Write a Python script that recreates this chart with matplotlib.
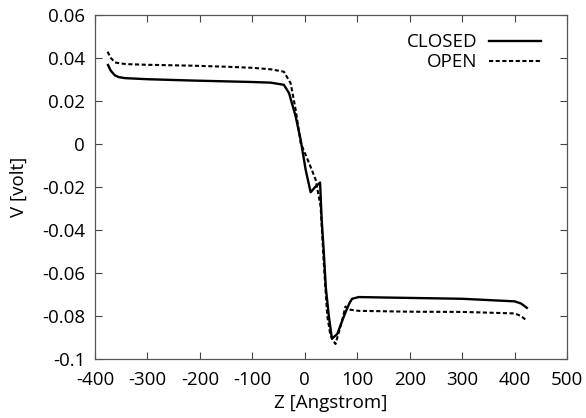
import matplotlib
matplotlib.use("Agg")
import matplotlib.pyplot as plt
from matplotlib.ticker import FixedLocator

plt.rcParams['font.family'] = ['Open Sans', 'DejaVu Sans']
plt.rcParams['axes.unicode_minus'] = False

# values
closed_z = [-375, -370, -362, -355, -343, -300, -217, -150, -100, -65, -40, -30,
            -17.5, -8, 1.5, 11, 20, 29, 32, 36, 40, 45.7, 51.5, 54, 61.7, 70,
            77.4, 85, 90, 102.7, 150, 200, 300, 400, 412, 423]
closed_v = [0.0366, 0.0340, 0.0318, 0.0310, 0.0305, 0.0300, 0.0294, 0.0290,
            0.0287, 0.0284, 0.0274, 0.0235, 0.0127, 0.0019, -0.0120, -0.0225,
            -0.0200, -0.0180, -0.0350, -0.0500, -0.0670, -0.0800, -0.0905,
            -0.0900, -0.0884, -0.0830, -0.0783, -0.0740, -0.0720, -0.0712,
            -0.0714, -0.0716, -0.0720, -0.0732, -0.0742, -0.0762]

open_z = [-376, -370, -362, -353, -340, -300, -217, -150, -100, -65, -40, -27,
          -17.5, -8, 7.8, 20.5, 30, 36, 42.7, 48, 52.2, 58.4, 64.7, 71, 77.4,
          82, 87, 102.7, 200, 300, 400, 412, 423]
open_v = [0.0428, 0.0400, 0.0378, 0.0374, 0.0370, 0.0367, 0.0363, 0.0358,
          0.0353, 0.0346, 0.0335, 0.0281, 0.0158, 0.0004, -0.0088, -0.0166,
          -0.0290, -0.0550, -0.0799, -0.0880, -0.0907, -0.0930, -0.0876,
          -0.0820, -0.0756, -0.0765, -0.0771, -0.0776, -0.0780, -0.0781,
          -0.0788, -0.0800, -0.0822]

x_ticks = [-400, -300, -200, -100, 0, 100, 200, 300, 400, 500]
y_ticks = [-0.1, -0.08, -0.06, -0.04, -0.02, 0, 0.02, 0.04, 0.06]
y_labels = ["-0.1", "-0.08", "-0.06", "-0.04", "-0.02", "0", "0.02", "0.04", "0.06"]

fig = plt.figure(figsize=(5.86, 4.18), dpi=100)
ax = fig.add_axes([0.162, 0.141, 0.806, 0.824])

ax.plot(closed_z, closed_v, color="black", lw=1.7, label="CLOSED")
ax.plot(open_z, open_v, color="black", lw=1.5, dashes=(2, 1.2), label="OPEN")

ax.set_xlim(-400, 500)
ax.set_ylim(-0.1, 0.06)
ax.xaxis.set_major_locator(FixedLocator(x_ticks))
ax.set_xticklabels([str(t) for t in x_ticks])
ax.yaxis.set_major_locator(FixedLocator(y_ticks))
ax.set_yticklabels(y_labels)
ax.tick_params(direction="in", length=5, width=0.8, top=True, right=True,
               labelsize=13.5, colors="#444444", labelcolor="black")
ax.tick_params(axis="x", pad=8.5)
ax.tick_params(axis="y", pad=7)
for s in ax.spines.values():
    s.set_color("#555555")
    s.set_linewidth(0.9)

ax.set_xlabel("Z [Angstrom]", fontsize=13.5, va="top")
ax.xaxis.set_label_coords(0.5, -0.1)
ax.set_ylabel("V [volt]", fontsize=13.5)
ax.yaxis.set_label_coords(-0.142, 0.5)

ax.legend(loc="upper right", frameon=False, markerfirst=False, fontsize=13.5,
          handlelength=2.8, handletextpad=0.6, labelspacing=0.1,
          borderaxespad=0.6, bbox_to_anchor=(0.985, 1.0))

fig.savefig("out.png", dpi=100)
